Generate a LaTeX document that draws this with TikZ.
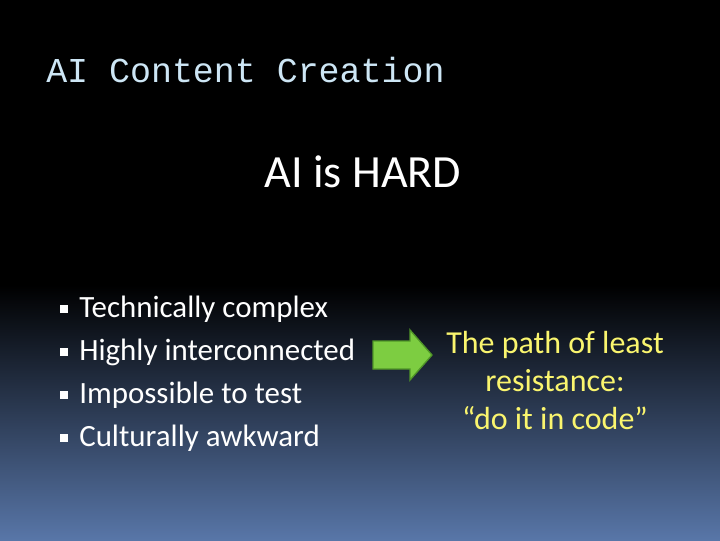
\documentclass[tikz,border=0pt]{standalone}
\usepackage{fontspec}
\setmainfont{Carlito}
\newfontfamily\monof{Liberation Mono}
\definecolor{bgbot}{RGB}{88,118,168}
\definecolor{titleblue}{RGB}{205,230,245}
\definecolor{ylw}{RGB}{250,245,110}
\definecolor{agreen}{RGB}{125,205,65}
\definecolor{agreendk}{RGB}{80,150,40}
\tikzset{bul/.style={fill=white,minimum size=5.5pt,inner sep=0pt},
 btxt/.style={anchor=west,text=white,font=\fontsize{23.2}{26}\selectfont,inner sep=0pt}}
\begin{document}
\begin{tikzpicture}[x=0.75pt,y=-0.75pt]
\useasboundingbox (0,0) rectangle (720,540);
\fill[black] (0,0) rectangle (720,541);
\shade[top color=black,bottom color=bgbot] (0,285) rectangle (720,540);
\node[anchor=west,inner sep=0pt,text=titleblue,font=\monof\fontsize{26.2}{29}\selectfont] (title) at (46,70) {AI Content Creation};
\node[inner sep=0pt,text=white,font=\fontsize{34.6}{38}\selectfont] (sub) at (363,172) {AI is HARD};
\foreach \y/\t [count=\i] in {309/Technically complex,352/Highly interconnected,395/Impossible to test,438/Culturally awkward}{
  \node[bul] (b\i) at (64,\y) {};
  \node[btxt] (t\i) at (79,\y) {\t};
}
\draw[agreendk,fill=agreen,line width=1pt] (373,341) -- (410,341) -- (410,330) -- (432,355) -- (410,380) -- (410,369) -- (373,369) -- cycle;
\node[align=center,text=ylw,font=\fontsize{24}{28.5}\selectfont,inner sep=0pt] (res) at (555,380) {The path of least\\resistance:\\“do it in code”};
\end{tikzpicture}
\end{document}
